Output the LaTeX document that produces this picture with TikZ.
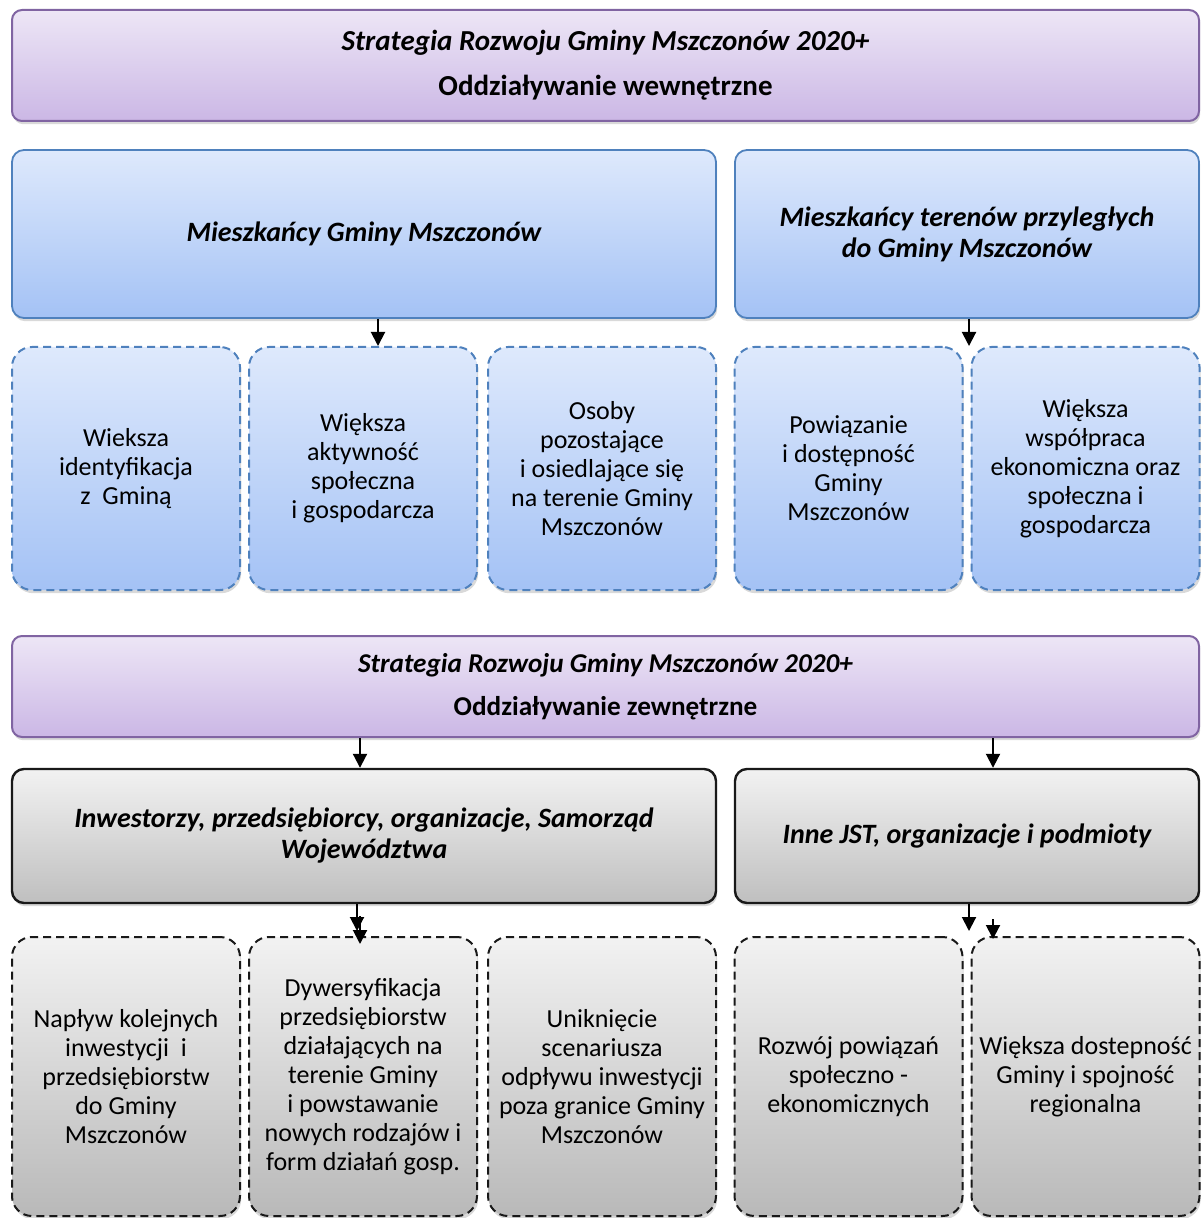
\documentclass[tikz,border=0pt]{standalone}
\usepackage{fontspec}
\setmainfont{Carlito}
\usepackage{tikz}
\usetikzlibrary{arrows.meta, shadows}

\definecolor{bandline}{HTML}{8064A2}
\definecolor{bandtop}{HTML}{EDE6F6}
\definecolor{bandbot}{HTML}{CBB7E5}
\definecolor{blueline}{HTML}{4F81BD}
\definecolor{bluetop}{HTML}{DEE9FC}
\definecolor{bluebot}{HTML}{A4C2F5}
\definecolor{graytop}{HTML}{F2F2F2}
\definecolor{graybot}{HTML}{BFBFBF}

\begin{document}
\begin{tikzpicture}[
    x=0.5pt, y=-0.5pt,
    shade/.style={drop shadow={shadow xshift=0.6pt, shadow yshift=-1.6pt, opacity=0.3}},
    band/.style={rectangle, rounded corners=5pt, draw=bandline, line width=1pt, top color=bandtop, bottom color=bandbot, shade, minimum width=593.5pt, text centered, font=\bfseries},
    group/.style={rectangle, rounded corners=6pt, draw=blueline, line width=0.9pt, top color=bluetop, bottom color=bluebot, shade, minimum height=84pt, text centered, font=\fontsize{14}{15.5}\selectfont\bfseries\itshape},
    effect/.style={rectangle, rounded corners=10pt, draw=blueline, dashed, dash pattern=on 4pt off 2.5pt, line width=1pt, top color=bluetop, bottom color=bluebot, shade, minimum width=114pt, minimum height=121.5pt, text centered, font=\fontsize{13}{14.5}\selectfont},
    actor/.style={rectangle, rounded corners=6pt, draw=black!90, line width=1.2pt, top color=graytop, bottom color=graybot, shade, minimum height=67pt, text centered, font=\fontsize{14}{15.5}\selectfont\bfseries\itshape},
    outcome/.style={rectangle, rounded corners=10pt, draw=black!90, dash pattern=on 4pt off 2.5pt, line width=1pt, top color=graytop, bottom color=graybot!110!white, shade, minimum width=114pt, minimum height=139.5pt, text centered, font=\fontsize{13}{14.5}\selectfont},
    arrow/.style={line width=1pt, -{Triangle[width=7pt, length=7pt]}}
]
\useasboundingbox (0,0) rectangle (1201,1218);

% Nodes
\node (inner) [band, minimum height=55.5pt, align=center, font=\fontsize{14.5}{17.4}\selectfont\bfseries] at (605.5,65.5) {\itshape Strategia Rozwoju Gminy Mszczonów 2020+\\[5pt]Oddziaływanie wewnętrzne};
\node (residents) [group, minimum width=352pt, align=center] at (364,234) {Mieszkańcy Gminy Mszczonów};
\node (neighbours) [group, minimum width=232pt, align=center] at (967,234) {Mieszkańcy terenów przyległych\\do Gminy Mszczonów};

\node (ident) [effect, align=center] at (126,468.5) {Wieksza\\identyfikacja\\z\ \ Gminą};
\node (activity) [effect, align=center] at (363,468.5) {Większa\\aktywność\\społeczna\\i gospodarcza};
\node (stay) [effect, align=center] at (602,468.5) {Osoby\\pozostające\\i osiedlające się\\na terenie Gminy\\Mszczonów};
\node (links) [effect, align=center] at (848.5,468.5) {Powiązanie\\i dostępność\\Gminy\\Mszczonów};
\node (coop) [effect, align=center] at (1085.5,468.5) {Większa\\współpraca\\ekonomiczna oraz\\społeczna i\\gospodarcza};

\node (outer) [band, minimum height=50.5pt, align=center, font=\fontsize{13.6}{16.3}\selectfont\bfseries] at (605.5,686.5) {\itshape Strategia Rozwoju Gminy Mszczonów 2020+\\[5pt]Oddziaływanie zewnętrzne};
\node (investors) [actor, minimum width=352pt, align=center] at (364,836) {Inwestorzy, przedsiębiorcy, organizacje, Samorząd\\Województwa};
\node (others) [actor, minimum width=232pt, align=center] at (967,836) {Inne JST, organizacje i podmioty};

\node (inflow) [outcome, align=center] at (126,1076.5) {Napływ kolejnych\\inwestycji\ \ i\\przedsiębiorstw\\do Gminy\\Mszczonów};
\node (diverse) [outcome, align=center] at (363,1076.5) {Dywersyfikacja\\przedsiębiorstw\\działających na\\terenie Gminy\\i powstawanie\\nowych rodzajów i\\form działań gosp.};
\node (avoid) [outcome, align=center] at (602,1076.5) {Uniknięcie\\scenariusza\\odpływu inwestycji\\poza granice Gminy\\Mszczonów};
\node (socio) [outcome, align=center] at (848.5,1076.5) {Rozwój powiązań\\społeczno -\\ekonomicznych};
\node (access) [outcome, align=center] at (1085.5,1076.5) {Większa dostepność\\Gminy i spojność\\regionalna};

% Arrows
\draw [arrow] ([xshift=7pt]residents.south) -- ([xshift=7.5pt]activity.north);
\draw [arrow] ([xshift=1pt]neighbours.south) -- ([xshift=1pt]neighbours.south |- links.north);
\draw [arrow] ([xshift=-2pt]outer.south -| residents.south) -- ([xshift=-2pt]investors.north);
\draw [arrow] ([xshift=13pt]outer.south -| neighbours.south) -- ([xshift=13pt]others.north);
\draw [arrow] ([xshift=-3.5pt]investors.south) -- ([xshift=-3pt,yshift=2.5pt]diverse.north);
\draw [arrow] ([xshift=-2pt,yshift=-6pt]investors.south) -- ([xshift=-1.5pt,yshift=-4pt]diverse.north);
\draw [arrow] ([xshift=1pt]others.south) -- ([xshift=1pt,yshift=2.5pt]others.south |- socio.north);
\draw [arrow] ([xshift=13pt,yshift=-7.5pt]others.south) -- ([xshift=13pt,yshift=-1.5pt]others.south |- access.north);

\end{tikzpicture}
\end{document}
